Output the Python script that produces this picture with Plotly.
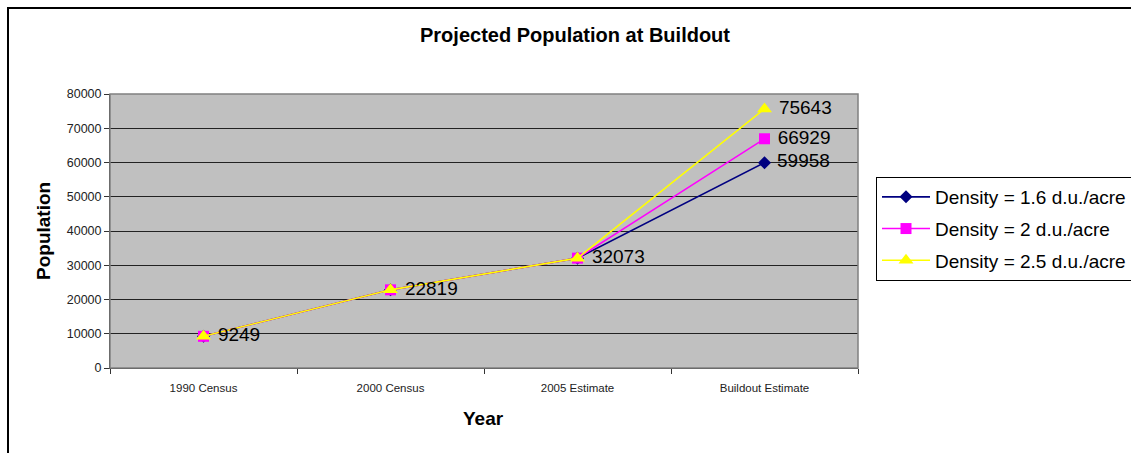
import plotly.graph_objects as go

# Chart data
years = ["1990 Census", "2000 Census", "2005 Estimate", "Buildout Estimate"]
density_16 = [9249, 22819, 32073, 59958]
density_2 = [9249, 22819, 32073, 66929]
density_25 = [9249, 22819, 32073, 75643]
series_names = ["Density = 1.6 d.u./acre", "Density = 2 d.u./acre", "Density = 2.5 d.u./acre"]
y_ticks = [0, 10000, 20000, 30000, 40000, 50000, 60000, 70000, 80000]

FONT = "Liberation Sans, Arial, sans-serif"

W, H = 1131, 453
L, R, T, B = 110, 273, 94, 85
PW, PH = W - L - R, H - T - B


def px_x(px):
    return (px - L) / PW


def px_y(py):
    return (H - B - py) / PH


def labels(values, show):
    # leading space keeps the value clear of the marker
    return [f" {v}" if s else "" for v, s in zip(values, show)]


fig = go.Figure()

styles = [
    (density_16, "#000080", "diamond", 10, [False, False, False, True]),
    (density_2, "#FF00FF", "square", 11, [False, False, False, True]),
    (density_25, "#FFFF00", "triangle-up", 13, [True, True, True, True]),
]

for i, ((vals, color, sym, size, show), name) in enumerate(zip(styles, series_names)):
    fig.add_trace(go.Scatter(
        x=years, y=vals, name=name, legendgroup=f"g{i}",
        mode="lines+markers+text",
        line=dict(color=color, width=1.6),
        marker=dict(symbol=sym, size=size, color=color),
        text=labels(vals, show),
        textposition="middle right",
        textfont=dict(family=FONT, size=19, color="black"),
        cliponaxis=False,
    ))

fig.update_layout(
    width=W, height=H,
    margin=dict(l=L, r=R, t=T, b=B, autoexpand=False),
    paper_bgcolor="white",
    plot_bgcolor="#C0C0C0",
    showlegend=True,
    legend=dict(
        x=px_x(876), y=px_y(177), xanchor="left", yanchor="top",
        bordercolor="black", borderwidth=1, bgcolor="white",
        font=dict(family=FONT, size=19, color="black"),
        traceorder="grouped", tracegroupgap=4,
        itemwidth=48,
    ),
    xaxis=dict(
        type="category", range=[-0.5, 3.5],
        tickson="boundaries", ticks="outside", ticklen=5,
        tickcolor="#333333", showgrid=False,
        showline=True, linecolor="#333333", linewidth=1,
        tickfont=dict(family=FONT, size=11.5, color="#222222"),
        ticklabelstandoff=9,
    ),
    yaxis=dict(
        range=[0, 80000], tickvals=y_ticks,
        ticktext=[str(v) for v in y_ticks],
        ticks="outside", ticklen=5, tickcolor="#333333",
        showgrid=True, gridcolor="#222222", gridwidth=1,
        showline=True, linecolor="#333333", linewidth=1,
        tickfont=dict(family=FONT, size=12.5, color="#222222"),
        zeroline=False,
    ),
    annotations=[
        dict(text="<b>Projected Population at Buildout</b>", x=px_x(575), y=px_y(35),
             xref="paper", yref="paper", showarrow=False,
             xanchor="center", yanchor="middle",
             font=dict(family=FONT, size=20, color="black")),
        dict(text="<b>Population</b>", x=px_x(43), y=px_y(231),
             xref="paper", yref="paper", showarrow=False, textangle=-90,
             xanchor="center", yanchor="middle",
             font=dict(family=FONT, size=19, color="black")),
        dict(text="<b>Year</b>", x=px_x(483), y=px_y(418),
             xref="paper", yref="paper", showarrow=False,
             xanchor="center", yanchor="middle",
             font=dict(family=FONT, size=19, color="black")),
    ],
    shapes=[
        # plot area frame
        dict(type="rect", xref="paper", yref="paper", x0=0, x1=1, y0=0, y1=1,
             line=dict(color="#808080", width=1.5), layer="above"),
        # outer chart border
        dict(type="rect", xref="paper", yref="paper",
             x0=px_x(8), x1=px_x(1140), y0=px_y(470), y1=px_y(8),
             line=dict(color="black", width=2)),
    ],
)

fig.write_html("out.html")
